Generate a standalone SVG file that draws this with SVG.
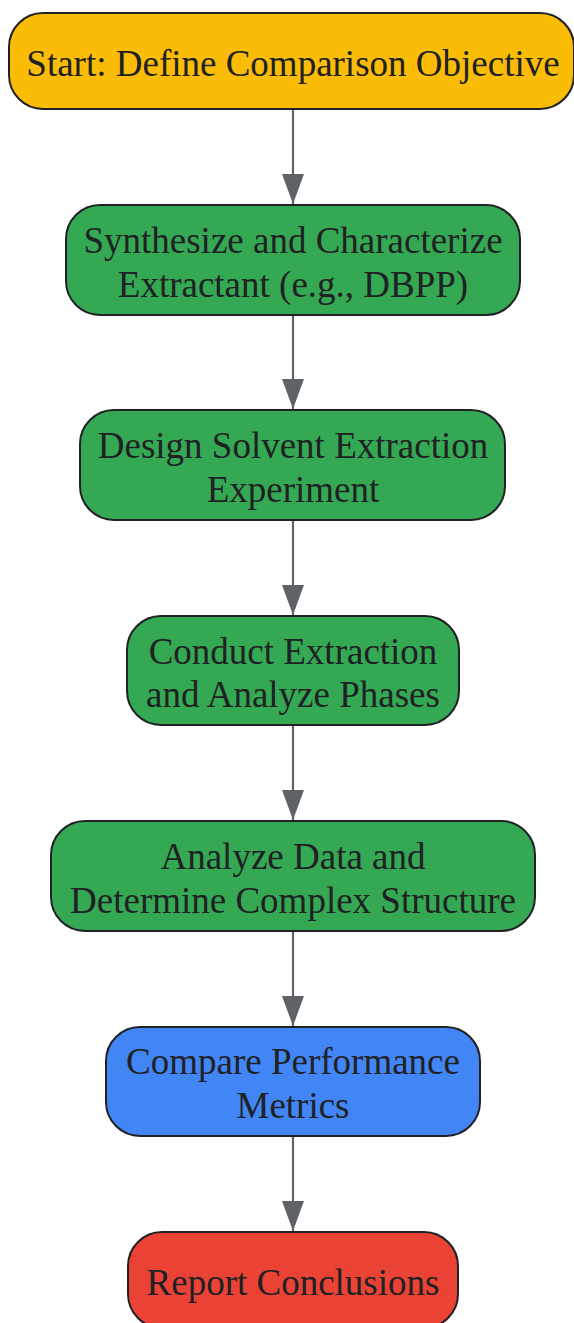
<svg xmlns="http://www.w3.org/2000/svg" width="574" height="1323" viewBox="0 0 574 1323">
<style>
.n{stroke:#202124;stroke-width:2}
.t{font-family:"Liberation Serif","Times New Roman",serif;font-size:37px;fill:#202124;text-anchor:middle;dominant-baseline:central}
.e{stroke:#5f6368;stroke-width:2.2;fill:none}
</style>
<defs>
<marker id="ah" viewBox="0 0 30 22" refX="30" refY="11" markerWidth="30" markerHeight="22" markerUnits="userSpaceOnUse" orient="auto">
<path d="M0,0 L30,11 L0,22 Z" fill="#5f6368"/>
</marker>
</defs>
<rect width="574" height="1323" fill="#ffffff"/>
<g id="edges">
<line class="e" x1="293" y1="109" x2="293" y2="204" marker-end="url(#ah)"/>
<line class="e" x1="293" y1="315" x2="293" y2="409" marker-end="url(#ah)"/>
<line class="e" x1="293" y1="520" x2="293" y2="615" marker-end="url(#ah)"/>
<line class="e" x1="293" y1="725" x2="293" y2="820" marker-end="url(#ah)"/>
<line class="e" x1="293" y1="931" x2="293" y2="1026" marker-end="url(#ah)"/>
<line class="e" x1="293" y1="1136" x2="293" y2="1231" marker-end="url(#ah)"/>
</g>
<g id="n1">
<rect class="n" x="9" y="13" width="565" height="96" rx="34" fill="#fbbc05"/>
<text class="t" x="293" y="63">Start: Define Comparison Objective</text>
</g>
<g id="n2">
<rect class="n" x="66" y="205" width="454" height="110" rx="34" fill="#34a853"/>
<text class="t" x="293" y="240">Synthesize and Characterize</text>
<text class="t" x="293" y="284">Extractant (e.g., DBPP)</text>
</g>
<g id="n3">
<rect class="n" x="80" y="410" width="425" height="110" rx="34" fill="#34a853"/>
<text class="t" x="293" y="445">Design Solvent Extraction</text>
<text class="t" x="293" y="489">Experiment</text>
</g>
<g id="n4">
<rect class="n" x="127" y="616" width="332" height="109" rx="34" fill="#34a853"/>
<text class="t" x="293" y="651">Conduct Extraction</text>
<text class="t" x="293" y="694">and Analyze Phases</text>
</g>
<g id="n5">
<rect class="n" x="51" y="821" width="484" height="110" rx="34" fill="#34a853"/>
<text class="t" x="293" y="856">Analyze Data and</text>
<text class="t" x="293" y="900">Determine Complex Structure</text>
</g>
<g id="n6">
<rect class="n" x="106" y="1027" width="374" height="109" rx="34" fill="#4285f4"/>
<text class="t" x="293" y="1061">Compare Performance</text>
<text class="t" x="293" y="1105">Metrics</text>
</g>
<g id="n7">
<rect class="n" x="128" y="1232" width="330" height="96" rx="34" fill="#ea4335"/>
<text class="t" x="293" y="1282">Report Conclusions</text>
</g>
</svg>
